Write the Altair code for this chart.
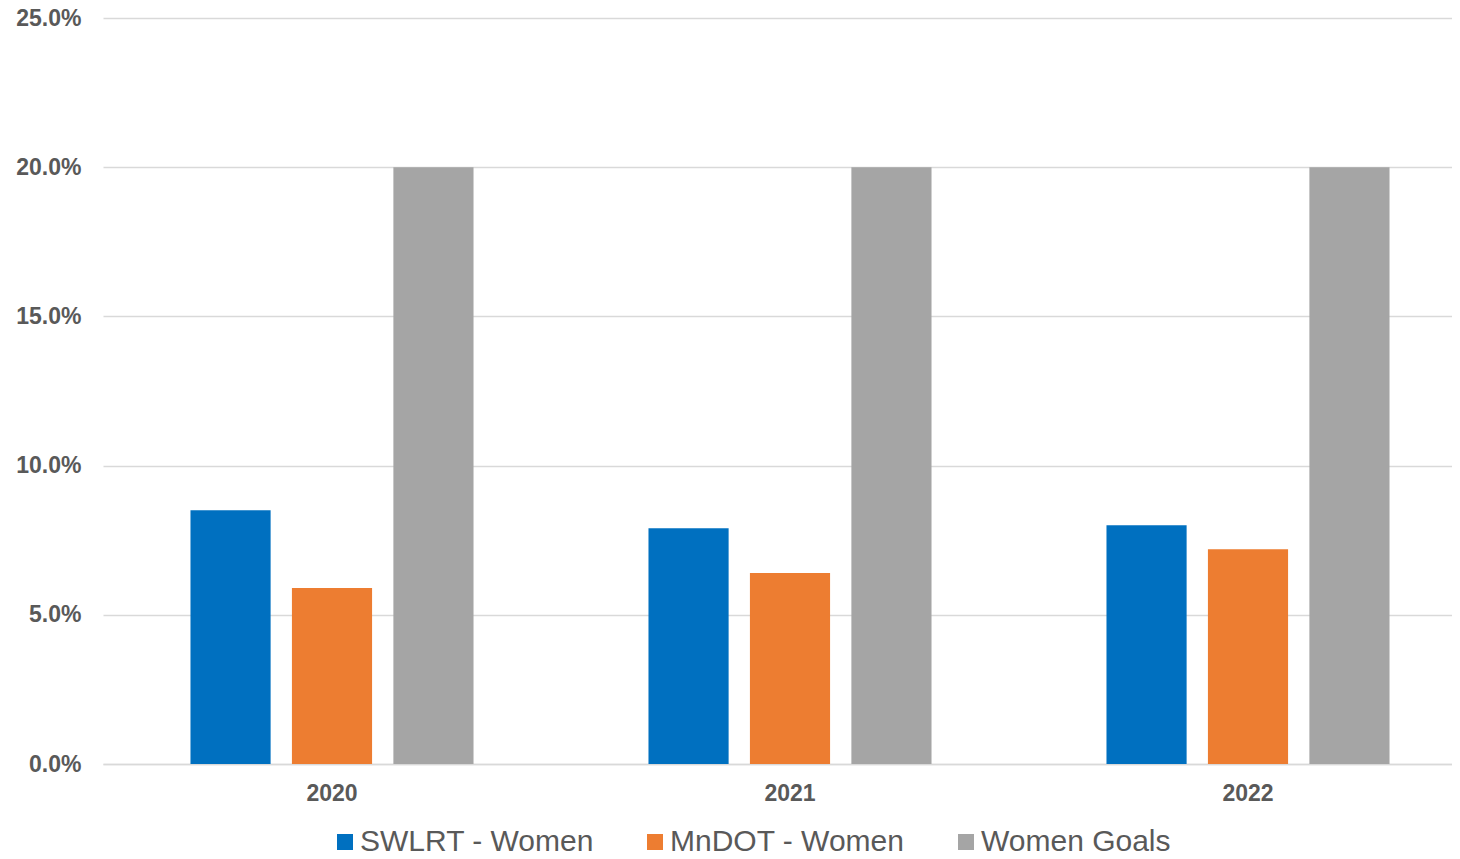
import altair as alt
import pandas as pd

years = ["2020", "2021", "2022"]
series = ["SWLRT - Women", "MnDOT - Women", "Women Goals"]
swlrt = [0.085, 0.079, 0.080]
mndot = [0.059, 0.064, 0.072]
goals = [0.20, 0.20, 0.20]
colors = ["#0070C0", "#ED7D31", "#A5A5A5"]

rows = []
for i, y in enumerate(years):
    for s, vals in zip(series, [swlrt, mndot, goals]):
        rows.append({"Year": y, "Series": s, "Value": vals[i]})
df = pd.DataFrame(rows)

chart = alt.Chart(df).mark_bar().encode(
    x=alt.X("Year:N", sort=years,
            scale=alt.Scale(range=[0, 1374], paddingInner=0.382, paddingOuter=0.191),
            axis=alt.Axis(title=None, labelAngle=0, ticks=False, domainColor="#D9D9D9",
                          domainWidth=1.5, labelFont="Liberation Sans", labelFontWeight="bold",
                          labelFontSize=23, labelColor="#595959", labelPadding=18)),
    xOffset=alt.XOffset("Series:N", sort=series,
                        scale=alt.Scale(paddingInner=0.21, paddingOuter=0)),
    y=alt.Y("Value:Q", scale=alt.Scale(domain=[0, 0.25], nice=False),
            axis=alt.Axis(title=None, format=".1%", values=[0, 0.05, 0.1, 0.15, 0.2, 0.25],
                          domain=False, ticks=False, gridColor="#D9D9D9", gridWidth=1.5,
                          labelFont="Liberation Sans", labelFontWeight="bold",
                          labelFontSize=23, labelColor="#595959", labelPadding=22)),
    color=alt.Color("Series:N", sort=series,
                    scale=alt.Scale(domain=series, range=colors),
                    legend=alt.Legend(title=None, orient="none", direction="horizontal",
                                      legendX=225, legendY=809, symbolType="square",
                                      symbolSize=256, symbolStrokeWidth=0, symbolOpacity=1,
                                      symbolOffset=2,
                                      labelFont="Liberation Sans", labelFontSize=30,
                                      labelLimit=0,
                                      labelColor="#595959", labelOffset=0, columnPadding=44)),
).properties(
    width=1349, height=746,
    autosize=alt.AutoSizeParams(type="none"),
    padding={"left": 95, "top": 10, "right": 0, "bottom": 87},
).configure_view(stroke=None)

chart.save("out.html", embed_options={"renderer": "svg", "actions": False})
